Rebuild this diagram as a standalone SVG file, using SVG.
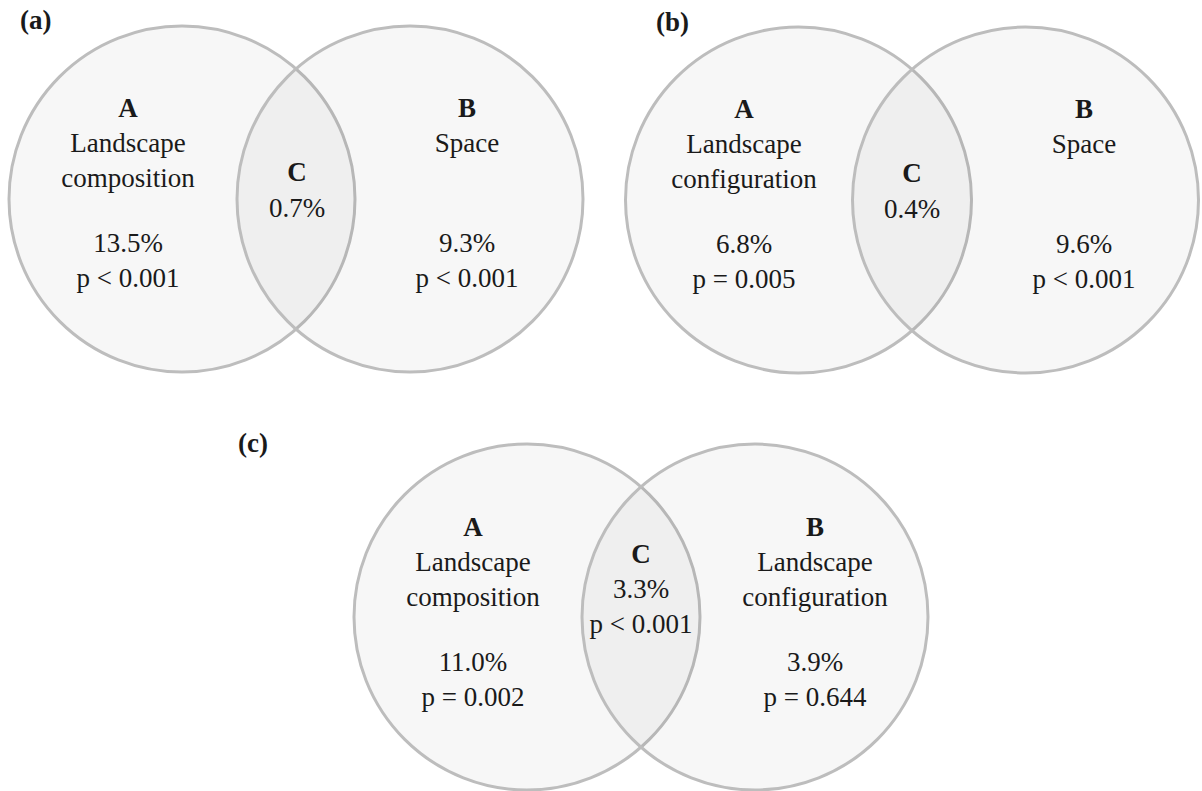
<svg xmlns="http://www.w3.org/2000/svg" width="1202" height="791" viewBox="0 0 1202 791">
<style>
.set{fill:#000;fill-opacity:0.03;stroke:#bdbdbd;stroke-width:3}
text{font-family:"Liberation Serif","Times New Roman",serif;font-size:27px;fill:#1a1a1a;text-anchor:middle}
.b{font-weight:bold}
.lab{font-weight:bold;text-anchor:start}
</style>
<rect width="1202" height="791" fill="#ffffff"/>
<g id="connectors"/>
<!-- Panel (a) -->
<text class="lab" x="20" y="29">(a)</text>
<g id="a-A">
<circle class="set" cx="182" cy="199" r="173"/>
<text class="b" x="128" y="117">A</text>
<text x="128" y="152">Landscape</text>
<text x="128" y="187">composition</text>
<text x="128" y="252">13.5%</text>
<text x="128" y="287">p &lt; 0.001</text>
</g>
<g id="a-B">
<circle class="set" cx="410" cy="199" r="173"/>
<text class="b" x="467" y="117">B</text>
<text x="467" y="152">Space</text>
<text x="467" y="252">9.3%</text>
<text x="467" y="287">p &lt; 0.001</text>
</g>
<g id="a-C">
<text class="b" x="297" y="181">C</text>
<text x="297" y="217">0.7%</text>
</g>
<!-- Panel (b) -->
<text class="lab" x="656" y="31">(b)</text>
<g id="b-A">
<circle class="set" cx="798.5" cy="200" r="173"/>
<text class="b" x="744" y="118">A</text>
<text x="744" y="153">Landscape</text>
<text x="744" y="188">configuration</text>
<text x="744" y="253">6.8%</text>
<text x="744" y="288">p = 0.005</text>
</g>
<g id="b-B">
<circle class="set" cx="1025.5" cy="200" r="173"/>
<text class="b" x="1084" y="118">B</text>
<text x="1084" y="153">Space</text>
<text x="1084" y="253">9.6%</text>
<text x="1084" y="288">p &lt; 0.001</text>
</g>
<g id="b-C">
<text class="b" x="912" y="182">C</text>
<text x="912" y="218">0.4%</text>
</g>
<!-- Panel (c) -->
<text class="lab" x="238" y="452">(c)</text>
<g id="c-A">
<circle class="set" cx="527" cy="617" r="173"/>
<text class="b" x="473" y="536">A</text>
<text x="473" y="571">Landscape</text>
<text x="473" y="606">composition</text>
<text x="473" y="671">11.0%</text>
<text x="473" y="706">p = 0.002</text>
</g>
<g id="c-B">
<circle class="set" cx="755" cy="617" r="173"/>
<text class="b" x="815" y="536">B</text>
<text x="815" y="571">Landscape</text>
<text x="815" y="606">configuration</text>
<text x="815" y="671">3.9%</text>
<text x="815" y="706">p = 0.644</text>
</g>
<g id="c-C">
<text class="b" x="641" y="563">C</text>
<text x="641" y="598">3.3%</text>
<text x="641" y="633">p &lt; 0.001</text>
</g>
</svg>
